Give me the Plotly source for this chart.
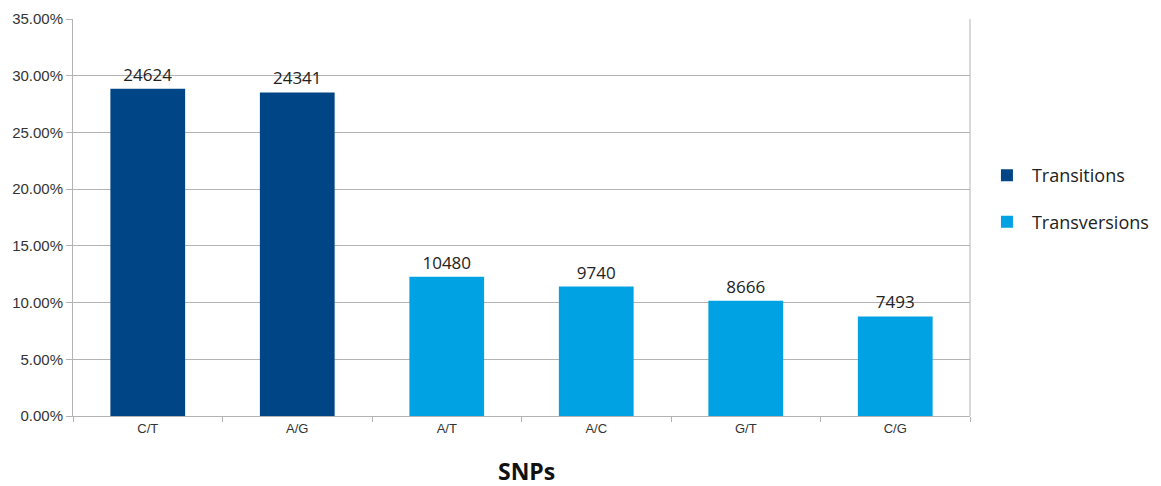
import plotly.graph_objects as go

categories = ["C/T", "A/G", "A/T", "A/C", "G/T", "C/G"]
counts = [24624, 24341, 10480, 9740, 8666, 7493]
groups = ["Transitions", "Transitions", "Transversions", "Transversions", "Transversions", "Transversions"]
series_names = ["Transitions", "Transversions"]
colors = {"Transitions": "#004586", "Transversions": "#00a2e3"}
y_ticks = [0, 0.05, 0.10, 0.15, 0.20, 0.25, 0.30, 0.35]
x_title = "SNPs"

total = sum(counts)
fig = go.Figure()
for name in series_names:
    xs = [c for c, g in zip(categories, groups) if g == name]
    cs = [n for n, g in zip(counts, groups) if g == name]
    fig.add_trace(go.Bar(
        x=xs, y=[n / total for n in cs], name=name,
        text=[str(n) for n in cs], textposition="outside", cliponaxis=False,
        textfont=dict(family="Open Sans", size=17, color="#222"),
        marker=dict(color=colors[name], line=dict(width=0)),
        width=0.5, legendgroup=name,
    ))

# page body has an 8px margin; the figure is sized/offset to compensate
fig.update_layout(
    width=1153, height=478,
    margin=dict(l=65, r=191, t=11, b=70),
    paper_bgcolor="white", plot_bgcolor="white",
    barmode="relative",
    showlegend=True,
    legend=dict(xref="container", yref="container", x=0.8447, y=0.688,
                xanchor="left", yanchor="top", itemwidth=40,
                font=dict(family="Open Sans", size=18, color="#222"),
                tracegroupgap=20, traceorder="grouped"),
    xaxis=dict(categoryorder="array", categoryarray=categories, automargin=False,
               tickson="boundaries", ticks="outside", ticklen=5, tickcolor="#b3b3b3",
               showline=True, linecolor="#b3b3b3", mirror=False,
               tickfont=dict(family="Liberation Sans", size=13, color="#333"),
               range=[-0.5, 5.5]),
    yaxis=dict(range=[0, 0.35], tickvals=y_ticks, tickformat=".2%", automargin=False,
               ticks="outside", ticklen=6, tickcolor="#b3b3b3",
               showgrid=True, gridcolor="#b3b3b3", gridwidth=1,
               showline=True, linecolor="#b3b3b3", zeroline=False,
               tickfont=dict(family="Liberation Sans", size=15, color="#333")),
    shapes=[dict(type="line", xref="paper", yref="paper", x0=1, x1=1, y0=0, y1=1,
                 line=dict(color="#b3b3b3", width=1))],
    annotations=[dict(text="<b>" + x_title + "</b>", xref="paper", yref="paper",
                      x=0.506, y=-0.139, xanchor="center", yanchor="middle", showarrow=False,
                      font=dict(family="Open Sans", size=23, color="#111"))],
)

fig.write_html("out.html")
